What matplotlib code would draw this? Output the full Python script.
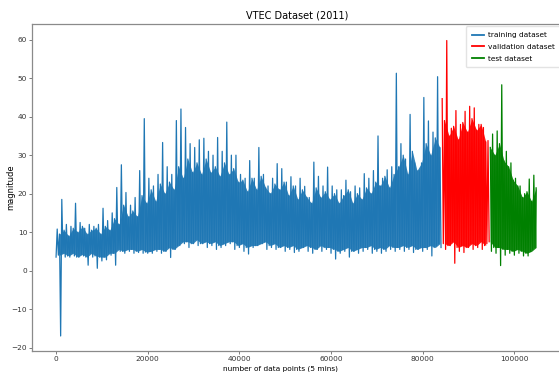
"""
VTEC dataset (2011) split into training / validation / test sections.
Output: out.png
"""
import matplotlib
matplotlib.use('Agg')
import matplotlib.pyplot as plt

N_POINTS = 105120
TRAIN_END = 84096
VAL_END = 94608
BIN = 1000

# per-bin values, one entry per 1000 samples
# highest spike in the bin
bin_high = [10.8, 18.5, 12.0, 11.5, 17.5, 12.5, 11.0, 12.0, 11.5, 12.0,
            16.2, 13.0, 15.0, 21.6, 27.5, 20.3, 17.0, 19.0, 26.0, 39.5,
            24.0, 22.0, 25.0, 33.3, 27.0, 25.0, 39.0, 42.0, 37.2, 33.0,
            32.0, 34.0, 34.4, 31.0, 30.0, 34.6, 31.0, 38.6, 30.0, 30.0,
            25.0, 24.0, 28.6, 24.0, 32.0, 25.0, 22.0, 24.0, 27.8, 26.5,
            23.0, 24.4, 22.0, 24.0, 21.9, 19.0, 28.2, 24.5, 22.0, 26.9,
            22.0, 21.0, 21.0, 23.5, 20.5, 22.0, 21.5, 25.2, 24.0, 26.0,
            35.0, 24.0, 26.2, 27.0, 51.3, 33.0, 29.0, 40.6, 28.0, 26.0,
            45.0, 38.9, 36.0, 50.4, 44.7, 59.8, 37.0, 41.6, 38.0, 41.4,
            42.7, 42.3, 38.0, 37.2, 33.8, 35.5, 36.3, 48.3, 31.0, 28.0,
            24.0, 22.0, 20.0, 23.8, 24.8]

# top of the dense band (typical daily maximum)
bin_core = [9.5, 10.5, 9.0, 11.0, 10.0, 11.5, 9.5, 10.5, 11.0, 9.5,
            11.5, 10.5, 13.5, 12.0, 17.0, 14.0, 15.5, 14.0, 19.5, 17.5,
            21.0, 18.0, 22.5, 20.0, 23.0, 21.0, 27.0, 24.0, 29.0, 25.5,
            28.0, 25.0, 29.0, 25.5, 27.0, 24.5, 28.0, 25.0, 26.5, 23.0,
            23.5, 20.5, 24.0, 21.0, 24.5, 21.5, 20.0, 22.5, 21.0, 23.0,
            19.5, 22.0, 18.5, 21.0, 19.0, 17.5, 21.5, 19.0, 20.5, 18.5,
            20.0, 17.5, 19.5, 21.0, 17.5, 20.0, 18.5, 21.5, 20.0, 23.0,
            22.0, 24.5, 21.5, 25.0, 27.0, 30.0, 25.0, 31.0, 26.0, 28.0,
            33.0, 30.0, 34.5, 32.0, 39.0, 35.0, 37.5, 34.0, 38.5, 36.0,
            39.5, 36.5, 38.0, 33.5, 32.0, 30.0, 33.0, 28.5, 27.0, 23.5,
            22.0, 19.0, 20.5, 18.0, 21.5]

# lowest dip in the bin
bin_low = [3.5, -17.0, 3.5, 3.5, 3.8, 3.5, 3.8, 1.4, 3.5, 0.6,
           2.5, 2.8, 4.0, 1.4, 5.0, 4.5, 5.0, 4.5, 4.7, 4.5,
           4.5, 4.5, 5.0, 4.5, 5.0, 3.4, 5.5, 6.5, 7.0, 6.0,
           7.0, 6.5, 7.0, 6.0, 6.5, 5.5, 6.0, 6.5, 7.0, 5.5,
           6.0, 5.0, 4.3, 6.0, 6.5, 7.0, 5.5, 6.0, 5.5, 6.0,
           5.0, 5.5, 4.7, 5.0, 6.0, 5.0, 4.5, 5.5, 5.0, 5.5,
           4.5, 3.0, 4.5, 5.0, 3.5, 5.0, 4.5, 5.0, 5.5, 4.5,
           5.0, 4.5, 5.0, 5.5, 5.0, 5.5, 5.0, 5.5, 4.7, 5.5,
           5.0, 5.5, 3.8, 6.5, 6.0, 5.5, 6.5, 1.9, 5.0, 4.7,
           6.0, 5.5, 6.0, 5.5, 7.0, 5.0, 4.5, 1.3, 4.0, 4.5,
           4.0, 4.5, 3.8, 3.8, 5.5]

# bottom of the dense band (typical daily minimum)
bin_floor = [4.0, 4.5, 3.8, 4.5, 3.5, 4.2, 3.5, 4.5, 3.8, 3.5,
             3.5, 4.5, 4.5, 5.5, 5.0, 5.5, 5.5, 5.0, 5.5, 4.8,
             5.0, 5.5, 5.5, 5.0, 6.0, 5.5, 6.5, 7.5, 7.5, 7.0,
             8.0, 7.0, 7.5, 7.0, 7.5, 6.5, 7.0, 7.5, 7.5, 6.5,
             7.0, 6.0, 6.5, 6.5, 7.0, 7.5, 6.5, 7.0, 6.0, 6.5,
             6.0, 6.5, 5.5, 6.0, 6.5, 6.0, 5.5, 6.5, 6.0, 6.0,
             5.5, 5.0, 5.5, 6.0, 5.0, 5.5, 6.0, 6.0, 6.5, 5.5,
             6.0, 5.5, 6.5, 6.0, 6.0, 6.5, 6.0, 6.5, 5.5, 6.0,
             6.0, 6.5, 6.0, 7.0, 7.0, 6.5, 7.5, 6.0, 6.5, 6.0,
             7.0, 6.5, 7.5, 6.5, 7.5, 6.0, 6.0, 5.5, 5.5, 5.0,
             5.5, 5.0, 4.5, 5.0, 6.0]

plt.rcParams.update({
    'font.family': 'DejaVu Sans',
    'axes.edgecolor': '#8a8a8a',
    'xtick.color': '#666666',
    'ytick.color': '#666666',
    'xtick.labelcolor': '#333333',
    'ytick.labelcolor': '#333333',
})

# four samples per bin: dip, spike, floor, band top
xs, ys = [], []
for k in range(len(bin_high)):
    xs += [k * BIN, k * BIN + 250, k * BIN + 500, k * BIN + 750]
    ys += [bin_low[k], bin_high[k], bin_floor[k], bin_core[k]]

# the solid daily band sits under the band-top samples
band_x = [k * BIN + 750 for k in range(len(bin_core))]

def part(lo, hi, px, *cols):
    keep = [i for i, x in enumerate(px) if lo <= x < hi]
    return [px[i] for i in keep], *[[c[i] for i in keep] for c in cols]

fig = plt.figure(figsize=(5.59, 3.72), dpi=100)
ax = fig.add_axes([0.0572, 0.0565, 0.948, 0.879])

segments = [
    (0, TRAIN_END, '#1f77b4', 'training dataset'),
    (TRAIN_END, VAL_END, 'red', 'validation dataset'),
    (VAL_END, N_POINTS + 1, 'green', 'test dataset'),
]
for lo, hi, col, lab in segments:
    bx, bf, bc = part(lo, hi, band_x, bin_floor, bin_core)
    ax.fill_between(bx, bf, bc, color=col, linewidth=0, alpha=0.9)
    px, py = part(lo, hi, xs, ys)
    ax.plot(px, py, color=col, linewidth=0.9, label=lab)

margin = 0.05 * N_POINTS
ax.set_xlim(-margin, N_POINTS + margin)
ax.set_ylim(-20.9, 64.1)
ax.set_xticks([0, 20000, 40000, 60000, 80000, 100000])
ax.set_yticks([-20, -10, 0, 10, 20, 30, 40, 50, 60])
ax.tick_params(labelsize=5.3, length=2.2, width=0.6, pad=1.2)
for s in ax.spines.values():
    s.set_linewidth(0.9)

ax.set_title('VTEC Dataset (2011)', fontsize=7, pad=4)
ax.set_xlabel('number of data points (5 mins)', fontsize=5.3)
ax.set_ylabel('magnitude', fontsize=6)
ax.yaxis.set_label_coords(-0.032, 0.5, transform=ax.transAxes)
# x label hugs the bottom edge of the figure
ax.xaxis.set_label_coords(0.502, 0.5 / 372, transform=fig.transFigure)
ax.xaxis.label.set_va('bottom')
leg = ax.legend(loc='upper right', bbox_to_anchor=(1.002, 1.0),
                fontsize=5.3, handlelength=1.6, handletextpad=0.6,
                borderpad=0.8, labelspacing=0.75, borderaxespad=0.3,
                framealpha=0.8, edgecolor='#dddddd')
for h in leg.get_lines():
    h.set_linewidth(1.3)

fig.savefig('out.png', dpi=100)
